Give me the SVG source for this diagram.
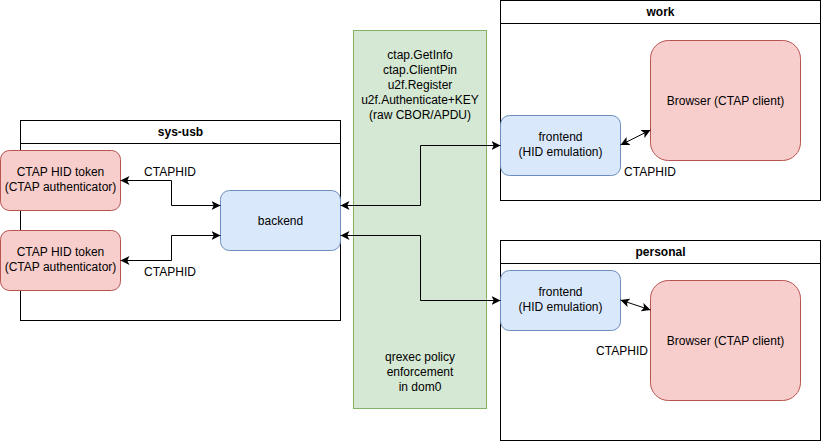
<svg xmlns="http://www.w3.org/2000/svg" width="821" height="441" viewBox="0 0 821 441">
<style>
text{font-family:"Liberation Sans",Arial,sans-serif;font-size:12px;fill:#000;text-anchor:middle}
.title{font-weight:bold}
.cont{fill:#fff;stroke:#000;stroke-width:1}
.red{fill:#f8cecc;stroke:#b85450}
.blue{fill:#dae8fc;stroke:#6c8ebf}
.green{fill:#d5e8d4;stroke:#82b366}
.edge{fill:none;stroke:#000;stroke-width:1;marker-start:url(#arr);marker-end:url(#arr)}
</style>
<defs>
<marker id="arr" viewBox="0 0 10 10" refX="10" refY="5" markerWidth="9" markerHeight="9" markerUnits="userSpaceOnUse" orient="auto-start-reverse">
<path d="M0,0 L10,5 L0,10 L2.5,5 Z" fill="#000"/>
</marker>
</defs>
<rect width="821" height="441" fill="#fff"/>
<g id="sys-usb">
<rect class="cont" x="20.5" y="120.5" width="320" height="200"/>
<line x1="20.5" y1="143.5" x2="340.5" y2="143.5" stroke="#000"/>
<text class="title" x="180.5" y="136">sys-usb</text>
</g>
<g id="work">
<rect class="cont" x="500.5" y="0.5" width="320" height="200"/>
<line x1="500.5" y1="23.5" x2="820.5" y2="23.5" stroke="#000"/>
<text class="title" x="660.5" y="16">work</text>
</g>
<g id="personal">
<rect class="cont" x="500.5" y="240.5" width="320" height="200"/>
<line x1="500.5" y1="263.5" x2="820.5" y2="263.5" stroke="#000"/>
<text class="title" x="660.5" y="256">personal</text>
</g>
<g id="dom0">
<rect class="green" x="353.5" y="30.5" width="133" height="378"/>
<text x="420" y="59">ctap.GetInfo</text>
<text x="420" y="74">ctap.ClientPin</text>
<text x="420" y="89">u2f.Register</text>
<text x="420" y="104">u2f.Authenticate+KEY</text>
<text x="420" y="119">(raw CBOR/APDU)</text>
<text x="420" y="361">qrexec policy</text>
<text x="420" y="376">enforcement</text>
<text x="420" y="391">in dom0</text>
</g>
<g id="token1">
<rect class="red" x="0.5" y="150.5" width="120" height="60" rx="9"/>
<text x="60.5" y="176">CTAP HID token</text>
<text x="60.5" y="191">(CTAP authenticator)</text>
</g>
<g id="token2">
<rect class="red" x="0.5" y="230.5" width="120" height="60" rx="9"/>
<text x="60.5" y="256">CTAP HID token</text>
<text x="60.5" y="271">(CTAP authenticator)</text>
</g>
<g id="backend">
<rect class="blue" x="220.5" y="190.5" width="120" height="60" rx="9"/>
<text x="280.5" y="225">backend</text>
</g>
<g id="frontend-work">
<rect class="blue" x="500.5" y="115.5" width="120" height="60" rx="9"/>
<text x="560.5" y="141">frontend</text>
<text x="560.5" y="156">(HID emulation)</text>
</g>
<g id="browser-work">
<rect class="red" x="650.5" y="40.5" width="150" height="120" rx="18"/>
<text x="725.5" y="105">Browser (CTAP client)</text>
</g>
<g id="frontend-personal">
<rect class="blue" x="500.5" y="270.5" width="120" height="60" rx="9"/>
<text x="560.5" y="296">frontend</text>
<text x="560.5" y="311">(HID emulation)</text>
</g>
<g id="browser-personal">
<rect class="red" x="650.5" y="280.5" width="150" height="120" rx="18"/>
<text x="725.5" y="345">Browser (CTAP client)</text>
</g>
<g id="connectors">
<polyline class="edge" points="120.5,180.5 171.5,180.5 171.5,205.5 220.5,205.5"/>
<polyline class="edge" points="120.5,260.5 171.5,260.5 171.5,235.5 220.5,235.5"/>
<polyline class="edge" points="340.5,205.5 420.5,205.5 420.5,145.5 500.5,145.5"/>
<polyline class="edge" points="340.5,235.5 420.5,235.5 420.5,300.5 500.5,300.5"/>
<line class="edge" x1="620.5" y1="145" x2="650.5" y2="130"/>
<line class="edge" x1="620.5" y1="300" x2="650.5" y2="310"/>
<text x="170" y="176">CTAPHID</text>
<text x="170" y="276">CTAPHID</text>
<text x="650" y="176">CTAPHID</text>
<text x="622" y="355">CTAPHID</text>
</g>
</svg>
